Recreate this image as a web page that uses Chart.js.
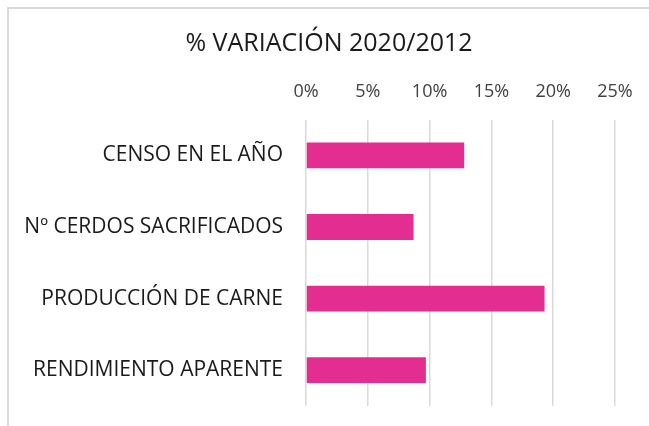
<!DOCTYPE html>
<html>
<head>
<meta charset="utf-8">
<script src="https://cdn.jsdelivr.net/npm/chart.js@4"></script>
<style>
	html, body { margin: 0; padding: 0; background: #fff; overflow: hidden; }
	#frame {
		position: absolute; left: 7px; top: 7px;
		width: 700px; height: 460px;
		border-left: 2px solid #d9d9d9; border-top: 2px solid #d9d9d9;
	}
	canvas { display: block; }
</style>
</head>
<body>
<div id="frame"><canvas id="chart" width="640" height="417"></canvas></div>
<script>
const categories = [`CENSO EN EL AÑO`, `Nº CERDOS SACRIFICADOS`, `PRODUCCIÓN DE CARNE`, `RENDIMIENTO APARENTE`];
const variation = [12.8, 8.7, 19.3, 9.7]; // % 2020 vs 2012
const tickStep = 5;
const tickMax = 25;

const pink = `#e32d91`;
const gridGray = `#d9d9d9`;
const fontFamily = `"Open Sans", sans-serif`;

const config = {
	type: `bar`,
	data: {
		labels: categories,
		datasets: [
			{
				label: `% Variación`,
				data: variation,
				backgroundColor: pink,
				borderWidth: 0,
				barPercentage: 0.45,
				categoryPercentage: 0.8
			}
		]
	},
	options: {
		indexAxis: `y`,
		responsive: false,
		animation: false,
		layout: {
			padding: {top: 0, right: 0, bottom: 20, left: 0}
		},
		scales: {
			x: {
				position: `top`,
				min: 0,
				max: tickMax,
				afterFit: scale => { scale.paddingRight = 34; }, // room right of 25%
				grid: {
					color: gridGray,
					lineWidth: 1.5,
					drawTicks: false
				},
				border: {display: false},
				ticks: {
					stepSize: tickStep,
					padding: 17,
					color: `#404040`,
					font: {family: fontFamily, size: 18},
					callback: val => `${val}%`
				}
			},
			y: {
				grid: {display: false},
				border: {display: false},
				afterFit: scale => {
					// fixed label column, no extra room for half labels
					scale.width = 297;
					scale.paddingTop = 0;
					scale.paddingBottom = 0;
				},
				ticks: {
					padding: 15,
					color: `#1a1a1a`,
					font: {family: fontFamily, size: 21}
				}
			}
		},
		plugins: {
			legend: false,
			tooltip: false,
			title: {
				display: true,
				text: `% VARIACIÓN 2020/2012`,
				color: `#1a1a1a`,
				font: {family: fontFamily, size: 25, weight: `normal`},
				padding: {top: 20, bottom: 5}
			}
		}
	}
};

new Chart(document.getElementById(`chart`), config);
</script>
</body>
</html>
